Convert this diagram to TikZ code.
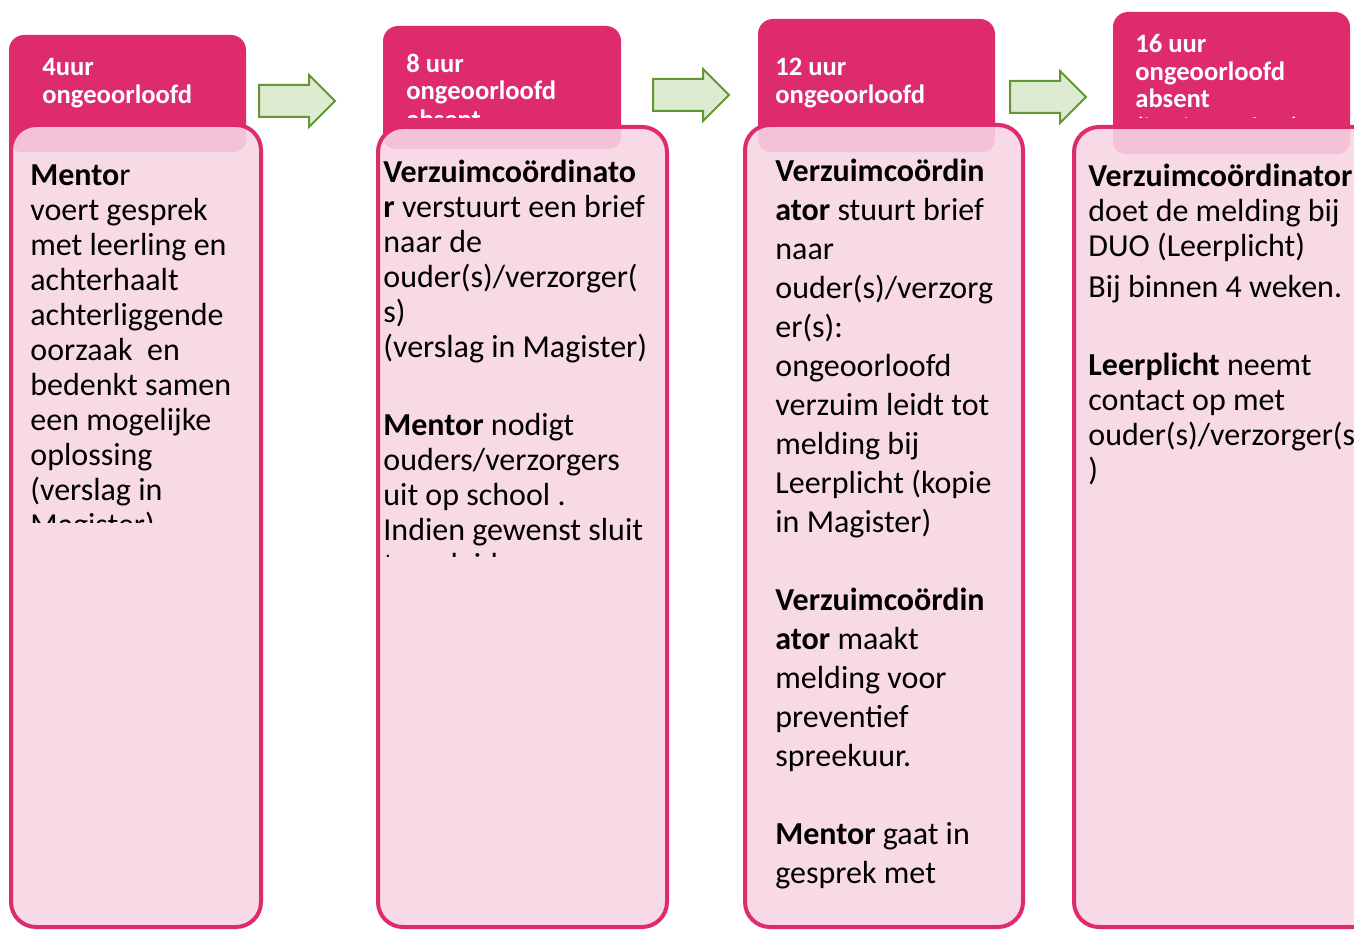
\documentclass[tikz,border=0pt]{standalone}
\usepackage{fontspec}
\setmainfont{Carlito}
\definecolor{roze}{RGB}{221,43,110}
\definecolor{lichtroze}{RGB}{248,218,230}
\definecolor{strookroze}{RGB}{243,194,214}
\definecolor{pijlgroen}{RGB}{221,235,208}
\definecolor{pijlrand}{RGB}{100,150,50}
\tikzset{
  tabbox/.style={fill=roze, rounded corners=7.5pt},
  bodybox/.style={rounded corners=12.5pt},
  tabtext/.style={anchor=base west, inner sep=0, align=left, text=white,
    font=\fontsize{13.3}{14}\selectfont\bfseries},
  bodytext/.style={anchor=base west, inner sep=0, align=left,
    font=\fontsize{16}{17.5}\selectfont},
  flowarrow/.style={fill=pijlgroen, draw=pijlrand, line width=1pt}
}
\begin{document}
\begin{tikzpicture}[x=0.5pt,y=-0.5pt]
	\clip (0,0) rectangle (1354,931);
	\fill[white] (0,0) rectangle (1354,931);
	\foreach \ax/\ay in {259/75, 653/69, 1010/71}
		\draw[flowarrow, shift={(\ax,\ay)}] (0,10) -- (50,10) -- (50,0) -- (76,26)
			-- (50,52) -- (50,42) -- (0,42) -- cycle;
	\foreach \tx/\ty/\tr/\bx/\by/\br/\sb in {9/35/246/11/125/261/152, 383/26/621/378/127/667/149,
			758/19/995/745/125/1023/152, 1113/12/1350/1074/127/1420/154}
	{
		\fill[tabbox] (\tx,\ty) rectangle (\tr,170);
		\fill[bodybox, lichtroze] (\bx,\by) rectangle (\br,927);
		\begin{scope}
			\clip[bodybox] (\bx,\by) rectangle (\br,927);
			\fill[strookroze, rounded corners=6pt] (\tx,\by-20) rectangle (\tr,\sb);
		\end{scope}
		\draw[bodybox, roze, line width=2pt] (\bx,\by) rectangle (\br,927);
	}
	\begin{scope}
		\clip (0,0) rectangle (1354,118);
		\node[tabtext] (uur4) at (42,104) {4uur\\ongeoorloofd};
		\node[tabtext] (uur8) at (406,128) {8 uur\\ongeoorloofd\\absent};
		\node[tabtext] (uur12) at (775,104) {12 uur\\ongeoorloofd};
		\node[tabtext] (uur16) at (1135,136) {16 uur\\ongeoorloofd\\absent\\(in vier weken)};
	\end{scope}
	\begin{scope}
		\clip (0,150) rectangle (300,522);
		\node[bodytext] (mentor) at (30,535) {\textbf{Mento}r\\voert gesprek\\met leerling en\\achterhaalt\\achterliggende\\oorzaak~ en\\bedenkt samen\\een mogelijke\\oplossing\\(verslag in\\Magister)};
	\end{scope}
	\begin{scope}
		\clip (370,150) rectangle (700,556);
		\node[bodytext] (brief) at (383,575) {\textbf{Verzuimcoördinato}\\\textbf{r} verstuurt een brief\\naar de\\ouder(s)/verzorger(\\s)\\(verslag in Magister)\\[21.5pt]\textbf{Mentor} nodigt\\ouders/verzorgers\\uit op school .\\Indien gewenst sluit\\teamleider aan};
	\end{scope}
	\node[bodytext, font=\fontsize{16}{19.5}\selectfont] (melding) at (775,883) {\textbf{Verzuimcoördin}\\\textbf{ator} stuurt brief\\naar\\ouder(s)/verzorg\\er(s):\\ongeoorloofd\\verzuim leidt tot\\melding bij\\Leerplicht (kopie\\in Magister)\\[19.5pt]\textbf{Verzuimcoördin}\\\textbf{ator} maakt\\melding voor\\preventief\\spreekuur.\\[19.5pt]\textbf{Mentor} gaat in\\gesprek met};
	\node[bodytext] (duo) at (1088,480) {\textbf{Verzuimcoördinator}\\doet de melding bij\\DUO (Leerplicht)\\[3pt]Bij binnen 4 weken.\\[21.5pt]\textbf{Leerplicht} neemt\\contact op met\\ouder(s)/verzorger(s\\)};
\end{tikzpicture}
\end{document}
